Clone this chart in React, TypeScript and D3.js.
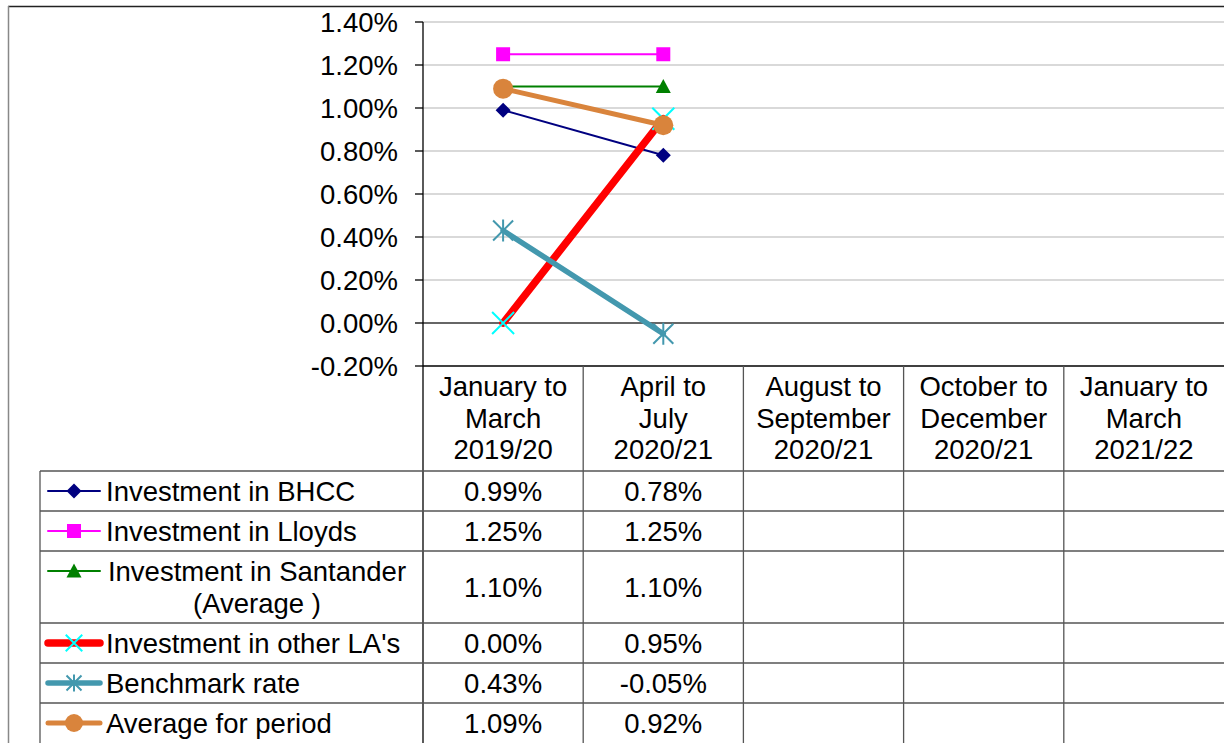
import React from "react";
import * as d3 from "d3";

const W = 1224;
const H = 743;

// period labels (one entry per line)
const periods: string[][] = [
  ["January to", "March", "2019/20"],
  ["April to", "July", "2020/21"],
  ["August to", "September", "2020/21"],
  ["October to", "December", "2020/21"],
  ["January to", "March", "2021/22"],
];

// values in %
const bhcc = [0.99, 0.78];
const lloyds = [1.25, 1.25];
const santander = [1.1, 1.1];
const otherLAs = [0.0, 0.95];
const benchmark = [0.43, -0.05];
const average = [1.09, 0.92];

const yTicks = [-0.2, 0, 0.2, 0.4, 0.6, 0.8, 1.0, 1.2, 1.4];

type Marker = "diamond" | "square" | "triangle" | "x" | "star" | "circle";

interface Series {
  label: string[];
  values: number[];
  color: string;
  markerColor: string;
  width: number;
  marker: Marker;
}

const series: Series[] = [
  { label: ["Investment in BHCC"], values: bhcc, color: "#000080", markerColor: "#000080", width: 2, marker: "diamond" },
  { label: ["Investment in Lloyds"], values: lloyds, color: "#ff00ff", markerColor: "#ff00ff", width: 2, marker: "square" },
  { label: ["Investment in Santander", "(Average )"], values: santander, color: "#008000", markerColor: "#008000", width: 2, marker: "triangle" },
  { label: ["Investment in other LA's"], values: otherLAs, color: "#ff0000", markerColor: "#00ffff", width: 7.5, marker: "x" },
  { label: ["Benchmark rate"], values: benchmark, color: "#4398ae", markerColor: "#4398ae", width: 5.5, marker: "star" },
  { label: ["Average for period"], values: average, color: "#d9843c", markerColor: "#d9843c", width: 5, marker: "circle" },
];

// layout
const plotLeft = 423;
const plotRight = W;
const plotTop = 22;
const plotBottom = 366;
const tableTop = 471;
const legendLeft = 40;
const rowHeights = [40, 40, 72, 40, 40, 40];
const FONT = "'Liberation Sans', Arial, sans-serif";
const FS = 27.5;

const x = d3.scaleBand<number>().domain(periods.map((_, i) => i)).range([plotLeft, plotRight]);
const y = d3.scaleLinear().domain([-0.2, 1.4]).range([plotBottom, plotTop]);
const pct = d3.formatLocale({ decimal: ".", thousands: ",", grouping: [3], currency: ["", ""], minus: "-" }).format(".2f");

function MarkerShape({ type, cx, cy, color, k = 1 }: { type: Marker; cx: number; cy: number; color: string; k?: number }) {
  switch (type) {
    case "diamond":
      return <path d={`M${cx},${cy - 7.5}L${cx + 7.5},${cy}L${cx},${cy + 7.5}L${cx - 7.5},${cy}Z`} fill={color} />;
    case "square":
      return <rect x={cx - 7} y={cy - 7} width={14} height={14} fill={color} />;
    case "triangle":
      return <path d={`M${cx},${cy - 7.5}L${cx + 7.5},${cy + 6.5}L${cx - 7.5},${cy + 6.5}Z`} fill={color} />;
    case "x": {
      const r = 11 * k;
      return <path d={`M${cx - r},${cy - r}L${cx + r},${cy + r}M${cx + r},${cy - r}L${cx - r},${cy + r}`} stroke={color} strokeWidth={2} />;
    }
    case "star": {
      const r = 10 * k;
      return (
        <path
          d={`M${cx - r},${cy - r}L${cx + r},${cy + r}M${cx + r},${cy - r}L${cx - r},${cy + r}M${cx},${cy - r - 1}L${cx},${cy + r + 1}`}
          stroke={color}
          strokeWidth={2}
        />
      );
    }
    case "circle":
      return <circle cx={cx} cy={cy} r={10 * (k < 1 ? 0.9 : 1)} fill={color} />;
  }
}

export default function App() {
  const line = d3
    .line<number>()
    .x((_, i) => (x(i) ?? 0) + x.bandwidth() / 2)
    .y((d) => y(d));

  const rowTops: number[] = [];
  let acc = tableTop;
  rowHeights.forEach((h) => {
    rowTops.push(acc);
    acc += h;
  });

  return (
    <svg width={W} height={H} style={{ position: "absolute", left: 0, top: 0, background: "#fff" }} fontFamily={FONT}>
      <rect x={0} y={0} width={W} height={H} fill="#fff" />
      {/* outer chart border */}
      <line x1={8} y1={6.5} x2={W} y2={6.5} stroke="#222" strokeWidth={1.5} />
      <line x1={8.5} y1={6} x2={8.5} y2={H} stroke="#888" strokeWidth={1.5} />

      {/* gridlines */}
      {yTicks.map((t) => (
        <line
          key={`g${t}`}
          x1={plotLeft}
          x2={plotRight}
          y1={y(t)}
          y2={y(t)}
          stroke={t === 0 ? "#333" : t === -0.2 ? "#000" : "#d9d9d9"}
          strokeWidth={t === 0 || t === -0.2 ? 1.3 : 2}
        />
      ))}
      {/* y axis */}
      <line x1={plotLeft} x2={plotLeft} y1={plotTop} y2={H} stroke="#000" strokeWidth={1.3} />
      {yTicks.map((t) => (
        <g key={`t${t}`}>
          <line x1={plotLeft - 8} x2={plotLeft} y1={y(t)} y2={y(t)} stroke="#000" strokeWidth={1.3} />
          <text x={398} y={y(t)} dy="0.35em" textAnchor="end" fontSize={FS} fill="#000">
            {pct(t)}%
          </text>
        </g>
      ))}

      {/* category column separators */}
      {periods.map((_, i) =>
        i === 0 ? null : (
          <line key={`c${i}`} x1={x(i)} x2={x(i)} y1={plotBottom} y2={H} stroke="#555" strokeWidth={1.3} />
        )
      )}
      {/* header text */}
      {periods.map((p, i) => (
        <text key={`h${i}`} textAnchor="middle" fontSize={FS} fill="#000">
          {p.map((s, j) => (
            <tspan key={j} x={(x(i) ?? 0) + x.bandwidth() / 2} y={396 + j * 31.5}>
              {s}
            </tspan>
          ))}
        </text>
      ))}

      {/* table rows */}
      <line x1={legendLeft} x2={legendLeft} y1={tableTop} y2={H} stroke="#555" strokeWidth={1.3} />
      {rowTops.map((top, r) => (
        <line key={`r${r}`} x1={legendLeft} x2={W} y1={top} y2={top} stroke="#555" strokeWidth={1.3} />
      ))}
      {series.map((s, r) => {
        const top = rowTops[r];
        const mid = top + rowHeights[r] / 2;
        const nLines = s.label.length;
        return (
          <g key={`row${r}`}>
            <line x1={48} x2={100} y1={top + 20} y2={top + 20} stroke={s.color} strokeWidth={s.width} strokeLinecap="round" />
            <MarkerShape type={s.marker} cx={74} cy={top + 20} color={s.markerColor} k={0.75} />
            <text textAnchor={nLines > 1 ? "middle" : "start"} fontSize={FS} fill="#000">
              {s.label.map((l, j) => (
                <tspan key={j} x={nLines > 1 ? 257 : 106} y={top + 30 + j * 32}>
                  {l}
                </tspan>
              ))}
            </text>
            {s.values.map((v, i) => (
              <text key={i} x={(x(i) ?? 0) + x.bandwidth() / 2} y={mid + 10} textAnchor="middle" fontSize={FS} fill="#000">
                {pct(v)}%
              </text>
            ))}
          </g>
        );
      })}

      {/* series lines */}
      {series.map((s, k) => (
        <g key={`s${k}`}>
          <path d={line(s.values) ?? ""} fill="none" stroke={s.color} strokeWidth={s.width} strokeLinecap="round" />
          {s.values.map((v, i) => (
            <MarkerShape key={i} type={s.marker} cx={(x(i) ?? 0) + x.bandwidth() / 2} cy={y(v)} color={s.markerColor} />
          ))}
        </g>
      ))}
    </svg>
  );
}
